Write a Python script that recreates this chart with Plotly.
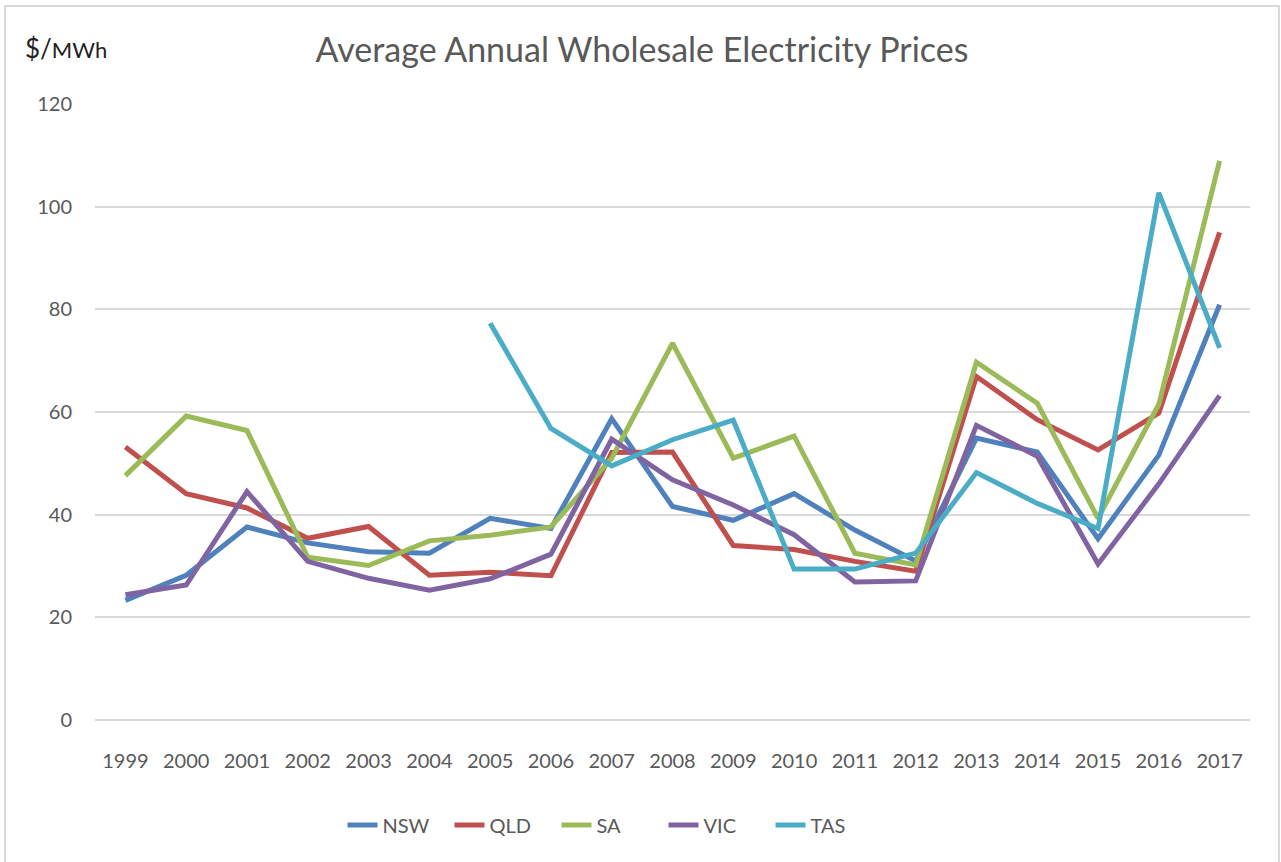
import plotly.graph_objects as go

years = [str(y) for y in range(1999, 2018)]
nsw = [23.3, 28.2, 37.6, 34.5, 32.8, 32.5, 39.3, 37.3, 58.7, 41.6, 38.9, 44.1, 37.0, 31.0, 54.9, 52.2, 35.3, 51.6, 80.9]
qld = [53.2, 44.1, 41.3, 35.4, 37.7, 28.2, 28.8, 28.1, 52.1, 52.2, 34.0, 33.2, 30.9, 29.0, 66.9, 58.5, 52.6, 59.8, 95.0]
sa = [47.6, 59.2, 56.4, 31.7, 30.1, 34.9, 36.0, 37.6, 51.0, 73.4, 51.0, 55.3, 32.5, 30.2, 69.7, 61.7, 39.3, 61.5, 108.9]
vic = [24.4, 26.3, 44.5, 30.9, 27.6, 25.3, 27.5, 32.3, 54.7, 46.8, 41.9, 36.1, 26.9, 27.1, 57.4, 51.4, 30.4, 46.0, 63.2]
tas = [None, None, None, None, None, None, 77.3, 56.8, 49.5, 54.6, 58.4, 29.4, 29.4, 32.5, 48.2, 42.2, 37.3, 102.7, 72.5]

series = [
    ("NSW", nsw, "#4f81bd"),
    ("QLD", qld, "#c0504d"),
    ("SA", sa, "#9bbb59"),
    ("VIC", vic, "#8064a2"),
    ("TAS", tas, "#4bacc6"),
]

fig = go.Figure()
for name, vals, color in series:
    fig.add_trace(go.Scatter(
        x=years, y=vals, name=name, mode="lines",
        line=dict(color=color, width=5),
        connectgaps=False,
    ))

font_family = "Lato, 'Open Sans', sans-serif"
W, H = 1281, 862
L, R, T, B = 95, 1250, 104, 720  # plot area in pixels
pw, ph = R - L, B - T

fig.update_layout(
    width=W, height=H,
    margin=dict(l=L, r=W - R, t=T, b=H - B),
    paper_bgcolor="white", plot_bgcolor="white",
    font=dict(family=font_family, color="#595959", size=19),
    title=dict(
        text="Average Annual Wholesale Electricity Prices",
        x=(642 - L) / pw, xref="paper", xanchor="center",
        y=1 - 50 / H, yref="container", yanchor="middle",
        font=dict(size=34, color="#595959", family=font_family),
    ),
    showlegend=True,
    legend=dict(
        orientation="h", x=(610 - L) / pw, xanchor="center", xref="paper",
        y=-(825 - B) / ph, yanchor="middle", yref="paper",
        font=dict(size=20, color="#595959"),
        tracegroupgap=0, entrywidth=62,
    ),
    xaxis=dict(
        type="category", range=[-0.5, 18.5],
        showgrid=False, showline=False, zeroline=False,
        ticks="", tickfont=dict(size=20, color="#595959"),
        ticklabelstandoff=27,
    ),
    yaxis=dict(
        range=[0, 120], dtick=20, tick0=0,
        showgrid=True, gridcolor="#d9d9d9", gridwidth=1.5,
        zeroline=True, zerolinecolor="#d9d9d9", zerolinewidth=1.5,
        showline=False, ticks="",
        tickfont=dict(size=20, color="#595959"),
        ticklabelstandoff=22,
    ),
)

fig.add_annotation(
    text="$/<span style='font-size:22px'>MWh</span>", xref="paper", yref="paper",
    x=(23 - L) / pw, y=(B - 48) / ph, xanchor="left", yanchor="middle",
    showarrow=False, font=dict(size=26, color="#222222", family=font_family),
)

# chart area border
fig.add_shape(
    type="rect", xref="paper", yref="paper",
    x0=(5 - L) / pw, x1=(1279 - L) / pw,
    y0=(B - 870) / ph, y1=(B - 6) / ph,
    line=dict(color="#d9d9d9", width=2), fillcolor="rgba(0,0,0,0)", layer="below",
)

fig.write_html(
    "out.html",
    config={"displayModeBar": False},
    post_script="document.body.style.margin='0px';document.body.style.overflow='hidden';",
)
